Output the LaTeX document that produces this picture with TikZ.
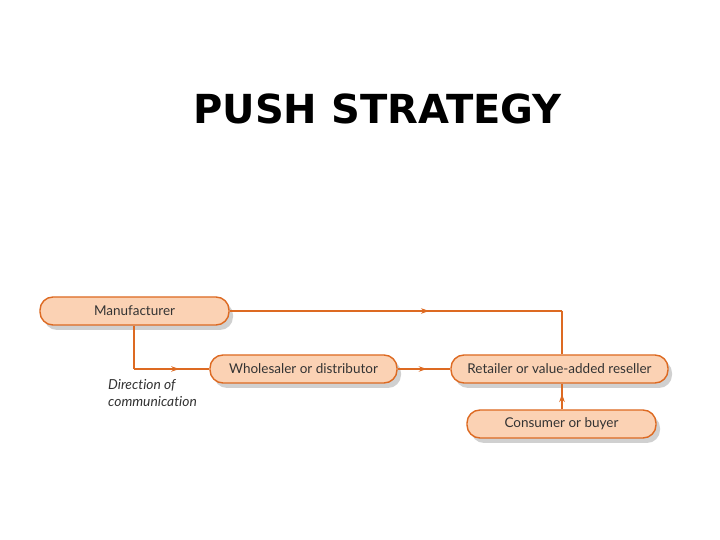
\documentclass[tikz,border=0pt]{standalone}
\usepackage{fontspec}
\setmainfont{Lato}[Ligatures=NoCommon]
\newfontfamily\titlefont{DejaVu Sans}
\usetikzlibrary{shadows,decorations.markings,arrows.meta}
\definecolor{boxfill}{HTML}{FBD2B4}
\definecolor{boxline}{HTML}{DD6A22}
\definecolor{txt}{HTML}{333333}
\tikzset{
  stage/.style={draw=boxline, line width=1.4pt, fill=boxfill, rounded corners=13pt,
     minimum height=28pt, text=txt, font=\fontsize{13.5}{15}\selectfont,
     drop shadow={shadow xshift=4pt, shadow yshift=-5pt, opacity=0.3, fill=black!60}},
  link/.style={draw=boxline, line width=1.5pt},
  midarrow/.style={postaction={decorate}, decoration={markings,
     mark=at position #1 with {\arrow{Stealth[length=8pt,width=5.5pt]}}}}
}
\begin{document}
\begin{tikzpicture}[x=1pt,y=1pt]
\useasboundingbox (0,0) rectangle (720,540);
\fill[white] (0,0) rectangle (720,540);
\node (title) at (377.5,431) {\titlefont\bfseries\fontsize{40}{46}\selectfont PUSH STRATEGY};
\node[stage, minimum width=189pt] (man) at (134.5,229) {Manufacturer};
\node[stage, minimum width=187pt] (whole) at (303.5,171) {Wholesaler or distributor};
\node[stage, minimum width=217pt] (ret) at (559.5,171) {Retailer or value-added reseller};
\node[stage, minimum width=189pt] (cons) at (561.5,116) {Consumer or buyer};
\coordinate (c1) at (562,229);
\coordinate (c2) at (134,171);
\draw[link, midarrow=0.6] (man.east) -- (c1);
\draw[link] (c1) -- (c1 |- ret.north);
\draw[link] (man.south -| c2) -- (c2);
\draw[link, midarrow=0.6] (c2) -- (whole.west);
\draw[link, midarrow=0.55] (whole.east) -- (ret.west);
\draw[link, midarrow=0.6] (cons.north -| c1) -- (ret.south -| c1);
\node[anchor=north west, align=left, text=txt, font=\itshape\fontsize{13.8}{17}\selectfont, inner sep=0pt] (dir) at (108,161) {Direction of\\communication};
\end{tikzpicture}
\end{document}
